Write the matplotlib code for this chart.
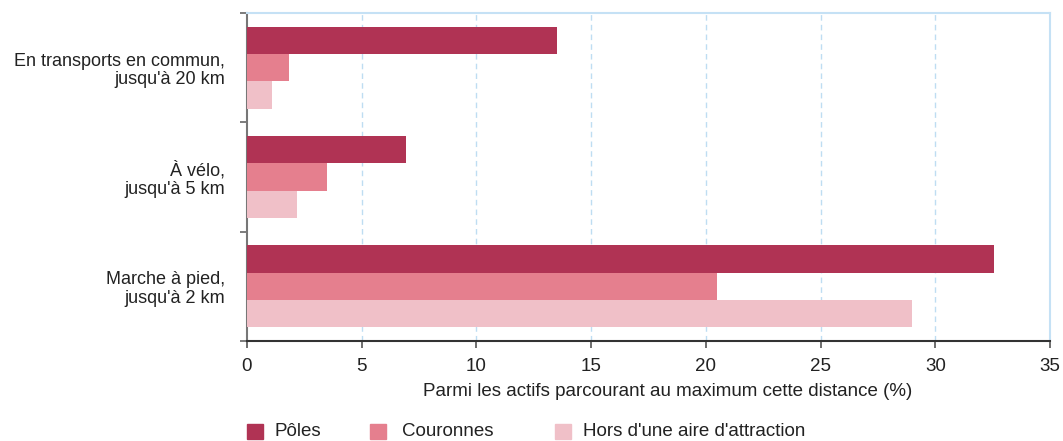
import matplotlib
matplotlib.use("Agg")
import matplotlib.pyplot as plt
from matplotlib.patches import Rectangle
import numpy as np

plt.rcParams['font.family'] = ['Liberation Sans', 'DejaVu Sans']

categories = ["En transports en commun,\njusqu'à 20 km", "À vélo,\njusqu'à 5 km", "Marche à pied,\njusqu'à 2 km"]
series = ["Pôles", "Couronnes", "Hors d'une aire d'attraction"]
poles = [13.5, 6.95, 32.55]
couronnes = [1.85, 3.5, 20.5]
hors = [1.1, 2.2, 29.0]
colors = ["#B03354", "#E57F8E", "#F0C0C8"]
xticks = [0, 5, 10, 15, 20, 25, 30, 35]

W, H = 1063, 441
fig = plt.figure(figsize=(W/100, H/100), dpi=100)
ax = fig.add_axes([247/W, 1-341/H, (1050-247)/W, (341-13)/H])

n = len(categories)
centers = np.arange(n) + 0.5
bh = 0.25
for i, (vals, col) in enumerate(zip([poles, couronnes, hors], colors)):
    ax.barh(centers + (i-1)*bh, vals, height=bh, color=col, zorder=3)

ax.set_xlim(0, 35)
ax.set_ylim(n, 0)
ax.set_xticks(xticks)
ax.set_xticklabels([str(t) for t in xticks], fontsize=13.5, color="#222222")
ax.set_yticks(np.arange(n+1))
ax.set_yticklabels([])
ax.set_yticks(centers, minor=True)
ax.set_yticklabels(categories, minor=True, fontsize=13, color="#222222", linespacing=1.1)
ax.tick_params(axis='y', which='minor', length=0, pad=16)
ax.tick_params(axis='y', which='major', length=5, color="#666666", width=1.2)
ax.tick_params(axis='x', length=5, color="#555555", width=1.2, pad=7)

for t in xticks[1:-1]:
    ax.axvline(t, color="#BEDDF2", linestyle=(0, (4, 3)), linewidth=1, zorder=1)

for s in ['top', 'right']:
    ax.spines[s].set_color("#C5E1F5")
    ax.spines[s].set_linewidth(1.5)
ax.spines['left'].set_color("#777777")
ax.spines['left'].set_linewidth(1.5)
ax.spines['bottom'].set_color("#333333")
ax.spines['bottom'].set_linewidth(1.5)

fig.text(668/W, 1-392/H, "Parmi les actifs parcourant au maximum cette distance (%)",
         ha='center', va='center', fontsize=13.5, color="#222222")

leg_sq = [247, 370, 555]
leg_tx = [275, 402, 583]
for xs, xt, lab, col in zip(leg_sq, leg_tx, series, colors):
    fig.patches.append(Rectangle((xs/W, 1-439/H), 16/W, 15/H, transform=fig.transFigure,
                                 color=col, figure=fig))
    fig.text(xt/W, 1-431/H, lab, ha='left', va='center', fontsize=13.5, color="#222222")

fig.savefig("out.png", dpi=100)
